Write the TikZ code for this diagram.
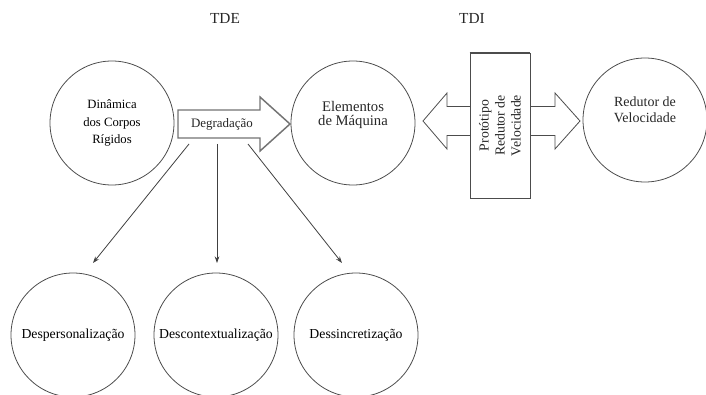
\documentclass[tikz,border=0pt]{standalone}
\usepackage{fontspec}
\setmainfont{Liberation Serif}
\usetikzlibrary{arrows.meta}
\begin{document}
\begin{tikzpicture}[x=0.75pt,y=-0.75pt,
  ink/.style={draw=black!70,line width=0.6pt},
  circ/.style={ink,circle,minimum size=93pt,inner sep=0pt,align=center},
  label/.style={align=center,inner sep=0pt,text=black!85},
  fatarrow/.style={ink,line join=miter,fill=white},
  link/.style={draw=black!75,line width=0.6pt,-{Stealth[length=5pt,width=3.5pt]}}]
\useasboundingbox (0,0) rectangle (706,395);

% headings
\node[label,font=\fontsize{11.5}{13}\selectfont] (tde) at (225,18) {TDE};
\node[label,font=\fontsize{11.5}{13}\selectfont] (tdi) at (472,18) {TDI};

% upper row
\node[circ,font=\fontsize{9.5}{13}\selectfont] (din) at (112,123) {Dinâmica\\dos Corpos\\Rígidos};
\node[circ] (elem) at (353,123) {};
\node[label,font=\fontsize{11}{10.5}\selectfont] (elemtxt) at (353,115) {Elementos\\de Máquina};
\node[circ] (red) at (645,120) {};
\node[label,font=\fontsize{10.5}{12}\selectfont] (redtxt) at (645,110) {Redutor de\\Velocidade};

% Degradação arrow
\draw[fatarrow,draw=black!55,line width=1.1pt]
  (178,110) -- (260,110) -- (260,97) -- (290,124) -- (260,151) -- (260,138) -- (178,138) -- cycle;
\node[label,font=\fontsize{9.7}{11}\selectfont] (deg) at (222,124) {Degradação};

% prototype box with its two arrows
\draw[fatarrow] (470,106.5) -- (447,106.5) -- (447,93) -- (423,121) -- (447,149) -- (447,135.5) -- (470,135.5);
\draw[fatarrow] (530,106.5) -- (555,106.5) -- (555,93) -- (580,121) -- (555,149) -- (555,135.5) -- (530,135.5);
\node[ink,rotate=90,minimum width=108.75pt,minimum height=45pt,inner sep=0pt,align=center,
      font=\fontsize{10.3}{12}\selectfont,text=black!85] (proto) at (500,125.5)
      {Protótipo\\Redutor de\\Velocidade};
\draw[black!70,line width=1.6pt] (proto.north east) -- (proto.south east);

% lower row
\node[circ,font=\fontsize{10.3}{13}\selectfont] (desp) at (73,335) {Despersonalização};
\node[circ,font=\fontsize{10.3}{13}\selectfont] (desc) at (216,335) {Descontextualização};
\node[circ,font=\fontsize{10.3}{13}\selectfont] (dess) at (356,335) {Dessincretização};

% branches of the degradation
\coordinate (s1) at (189,144);
\coordinate (s2) at (217,144);
\coordinate (s3) at (248,144);
\coordinate (e1) at (93,263);
\coordinate (e2) at (217,263);
\coordinate (e3) at (342,263);
\draw[link] (s1) -- (e1);
\draw[link] (s2) -- (e2);
\draw[link] (s3) -- (e3);
\end{tikzpicture}
\end{document}
